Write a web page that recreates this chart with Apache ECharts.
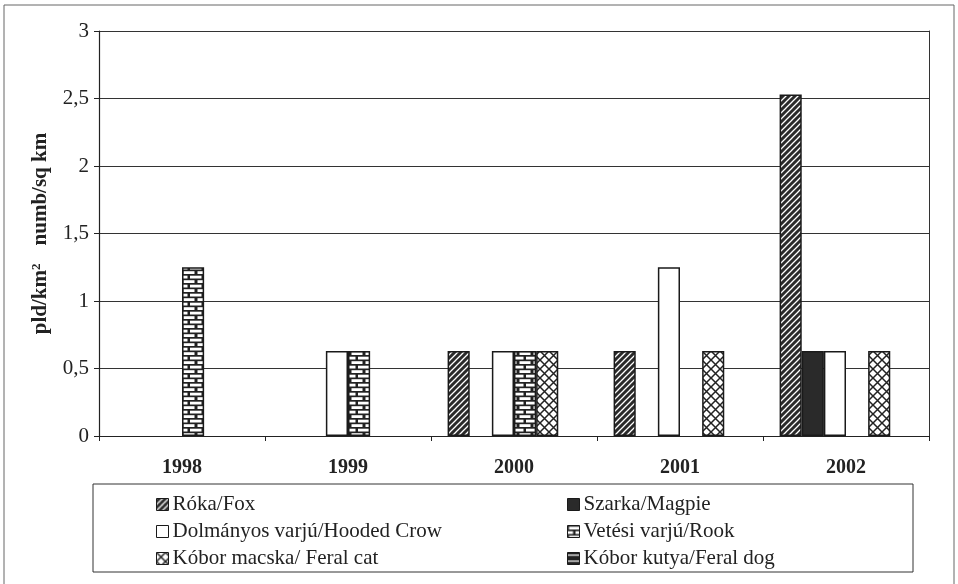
<!DOCTYPE html>
<html>
<head>
    <meta charset="utf-8">
    <title>Ragadozók</title>
    <script src="https://cdn.jsdelivr.net/npm/echarts@6/dist/echarts.min.js"></script>
</head>
<body style="margin:0; background:#fff;">
    <div id="div_chart" style="width: 958px; height:584px;"></div>

    <script type="text/javascript">
        var years = ['1998', '1999', '2000', '2001', '2002'];
        var yTicks = [0, 0.5, 1, 1.5, 2, 2.5, 3];
        var seriesNames = ['Róka/Fox', 'Szarka/Magpie', 'Dolmányos varjú/Hooded Crow',
            'Vetési varjú/Rook', 'Kóbor macska/ Feral cat', 'Kóbor kutya/Feral dog'];
        var fox = [null, null, 0.63, 0.63, 2.53];
        var magpie = [null, null, null, null, 0.63];
        var crow = [null, 0.63, 0.63, 1.25, 0.63];
        var rook = [1.25, 0.63, 0.63, null, null];
        var cat = [null, null, 0.63, 0.63, 0.63];
        var dog = [null, null, null, null, null];

        // fill patterns, drawn on small canvases
        function pattern(w, h, draw) {
            var c = document.createElement('canvas');
            c.width = w; c.height = h;
            draw(c.getContext('2d'));
            return { image: c, repeat: 'repeat' };
        }
        var pFox = pattern(6, 6, function (ctx) {
            ctx.fillStyle = '#2a2a2a'; ctx.fillRect(0, 0, 6, 6);
            ctx.strokeStyle = '#fff'; ctx.lineWidth = 1.3;
            ctx.beginPath();
            ctx.moveTo(-1, 7); ctx.lineTo(7, -1);
            ctx.moveTo(-1, 1); ctx.lineTo(1, -1);
            ctx.moveTo(5, 7); ctx.lineTo(7, 5);
            ctx.stroke();
        });
        var pRook = pattern(14, 9, function (ctx) {
            ctx.fillStyle = '#222'; ctx.fillRect(0, 0, 14, 9);
            ctx.fillStyle = '#fff';
            ctx.fillRect(1.5, 1.2, 11, 2.8);
            ctx.fillRect(0, 5.7, 5.5, 2.8);
            ctx.fillRect(8, 5.7, 6, 2.8);
        });
        var pCat = pattern(9, 9, function (ctx) {
            ctx.fillStyle = '#fff'; ctx.fillRect(0, 0, 9, 9);
            ctx.strokeStyle = '#222'; ctx.lineWidth = 1.5;
            ctx.beginPath();
            ctx.moveTo(0, 0); ctx.lineTo(9, 9);
            ctx.moveTo(9, 0); ctx.lineTo(0, 9);
            ctx.stroke();
        });
        var pDog = pattern(6, 6, function (ctx) {
            ctx.fillStyle = '#222'; ctx.fillRect(0, 0, 6, 6);
            ctx.fillStyle = '#fff';
            ctx.fillRect(0, 2, 6, 1.2);
        });
        var fills = [pFox, '#2a2a2a', '#fff', pRook, pCat, pDog];
        var values = [fox, magpie, crow, rook, cat, dog];

        var serif = 'Liberation Serif';
        var myChart = echarts.init(document.getElementById('div_chart'));

        var series = seriesNames.map(function (name, i) {
            return {
                name: name,
                type: 'bar',
                barGap: 0,
                barCategoryGap: '20%',
                data: values[i],
                itemStyle: { color: fills[i], borderColor: '#1a1a1a', borderWidth: 1.5 }
            };
        });

        var legendBase = {
            orient: 'vertical',
            top: 489,
            itemWidth: 12,
            itemHeight: 12,
            itemGap: 6,
            icon: 'rect',
            textStyle: { fontFamily: serif, fontSize: 21, color: '#222', padding: [0, 0, 0, -1] },
            itemStyle: { borderColor: '#1a1a1a', borderWidth: 1 }
        };

        myChart.setOption({
            animation: false,
            backgroundColor: '#fff',
            grid: { left: 99, right: 29, top: 31, bottom: 148 },
            legend: [
                Object.assign({}, legendBase, { left: 151, data: [seriesNames[0], seriesNames[2], seriesNames[4]] }),
                Object.assign({}, legendBase, { left: 562, data: [seriesNames[1], seriesNames[3], seriesNames[5]] })
            ],
            xAxis: {
                type: 'category',
                data: years,
                axisLine: { lineStyle: { color: '#222', width: 1.2 } },
                axisTick: { show: true, length: 5, lineStyle: { color: '#222' } },
                axisLabel: { fontFamily: serif, fontSize: 20, fontWeight: 'bold', color: '#222', margin: 22 }
            },
            yAxis: [{
                type: 'value',
                min: yTicks[0],
                max: yTicks[yTicks.length - 1],
                interval: 0.5,
                name: '{a|pld/km}{sup|2}{gap|}{a|numb/sq km}',
                nameLocation: 'middle',
                nameGap: 48,
                nameTextStyle: {
                    fontFamily: serif, fontSize: 21, fontWeight: 'bold', color: '#222',
                    rich: {
                        a: { fontFamily: serif, fontSize: 21, fontWeight: 'bold', color: '#222' },
                        sup: { fontFamily: serif, fontSize: 13, fontWeight: 'bold', color: '#222', verticalAlign: 'top' },
                        gap: { width: 18 }
                    }
                },
                axisLine: { show: true, lineStyle: { color: '#222', width: 1.2 } },
                axisTick: { show: true, length: 5, lineStyle: { color: '#222' } },
                axisLabel: {
                    fontFamily: serif, fontSize: 21, color: '#222', margin: 10,
                    formatter: function (v) { return String(v).replace('.', ','); }
                },
                splitLine: { lineStyle: { color: '#333', width: 1 } }
            }, {
                type: 'value',
                position: 'right',
                min: yTicks[0],
                max: yTicks[yTicks.length - 1],
                interval: 0.5,
                axisLine: { show: true, lineStyle: { color: '#333', width: 1 } },
                axisTick: { show: false },
                axisLabel: { show: false },
                splitLine: { show: false }
            }],
            graphic: [
                { type: 'rect', shape: { x: 4, y: 5, width: 950, height: 590 },
                  style: { fill: null, stroke: '#666', lineWidth: 1 }, silent: true },
                { type: 'rect', shape: { x: 93, y: 484, width: 820, height: 88 },
                  style: { fill: null, stroke: '#333', lineWidth: 1 }, silent: true }
            ],
            series: series
        });
    </script>
</body>
</html>
